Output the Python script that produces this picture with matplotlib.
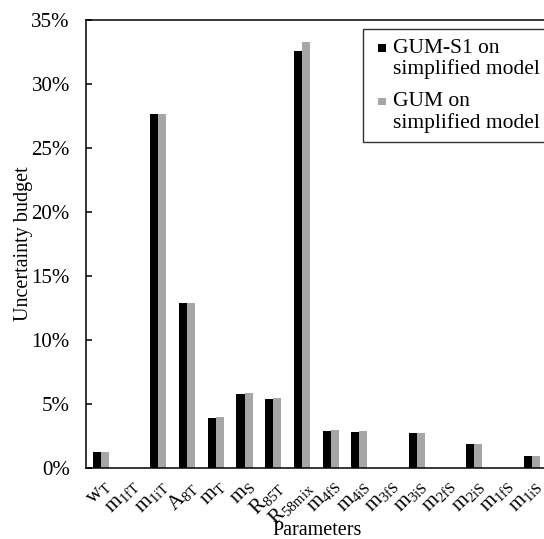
import numpy as np
import matplotlib
matplotlib.use('Agg')
import matplotlib.pyplot as plt
from matplotlib.patches import Rectangle
from matplotlib.container import BarContainer
from matplotlib.legend_handler import HandlerPatch, update_from_first_child
from matplotlib.ticker import PercentFormatter

plt.rcParams['font.family'] = ['Liberation Serif', 'DejaVu Serif']
plt.rcParams['mathtext.fontset'] = 'custom'
plt.rcParams['mathtext.rm'] = 'Liberation Serif'
plt.rcParams['mathtext.it'] = 'Liberation Serif'

params = [r'$\mathrm{w_T}$', r'$\mathrm{m_{1fT}}$', r'$\mathrm{m_{1iT}}$', r'$\mathrm{A_{8T}}$',
          r'$\mathrm{m_T}$', r'$\mathrm{m_S}$', r'$\mathrm{R_{85T}}$', r'$\mathrm{R_{58mix}}$',
          r'$\mathrm{m_{4fS}}$', r'$\mathrm{m_{4iS}}$', r'$\mathrm{m_{3fS}}$', r'$\mathrm{m_{3iS}}$',
          r'$\mathrm{m_{2fS}}$', r'$\mathrm{m_{2iS}}$', r'$\mathrm{m_{1fS}}$', r'$\mathrm{m_{1iS}}$']
gum_s1 = [1.27, 0, 27.65, 12.85, 3.86, 5.74, 5.35, 32.55, 2.87, 2.77, 0, 2.74, 0, 1.85, 0, 0.96]
gum = [1.27, 0, 27.65, 12.85, 3.94, 5.84, 5.45, 33.28, 2.95, 2.85, 0, 2.74, 0, 1.88, 0, 0.96]

fig = plt.figure(figsize=(5.44, 5.39), dpi=100)
ax = fig.add_axes([0.159, 0.132, 0.845, 0.831])

x = np.arange(len(params))
w = 0.28
ax.bar(x - w/2, gum_s1, w, color='black', linewidth=0, label='GUM-S1 on\nsimplified model')
ax.bar(x + w/2, gum, w, color='#a6a6a6', linewidth=0, label='GUM on\nsimplified model')

ax.set_xlim(-0.5, len(params) - 0.5)
ax.set_ylim(0, 35)
ax.set_yticks(np.arange(0, 36, 5))
ax.yaxis.set_major_formatter(PercentFormatter(decimals=0))
ax.tick_params(axis='y', direction='in', length=4, width=1.1, labelsize=15, pad=12)
ax.set_xticks(x)
ax.set_xticklabels(params, rotation=45, ha='right', rotation_mode='anchor', fontsize=15)
ax.tick_params(axis='x', length=0, pad=6)
for sp in ax.spines.values():
    sp.set_linewidth(1.1)

ax.set_xlabel('Parameters', fontsize=14.5, va='center')
ax.xaxis.set_label_coords(0.501, -0.14)
ax.set_ylabel('Uncertainty budget', fontsize=14.5, va='center')
ax.yaxis.set_label_coords(-0.137, 0.5)


# small square beside the first line of a two-line label
def top_square(legend, orig_handle, xdescent, ydescent, width, height, fontsize):
    size = 0.36 * fontsize
    return Rectangle((-xdescent + width - size, -ydescent + 0.53 * fontsize), size, size)


leg = ax.legend(loc='upper left', bbox_to_anchor=(362.7/544, 1 - 29.3/539),
                bbox_transform=fig.transFigure, fontsize=15.5, frameon=True,
                fancybox=False, handlelength=0.63, handleheight=0.35, handletextpad=0.34,
                borderpad=0.45, labelspacing=0.6, borderaxespad=0,
                handler_map={BarContainer: HandlerPatch(patch_func=top_square,
                                                        update_func=update_from_first_child)})
for t in leg.get_texts():
    t.set_linespacing(1.1)
leg.get_frame().set_edgecolor('black')
leg.get_frame().set_linewidth(1.0)

fig.savefig('out.png', dpi=100)
